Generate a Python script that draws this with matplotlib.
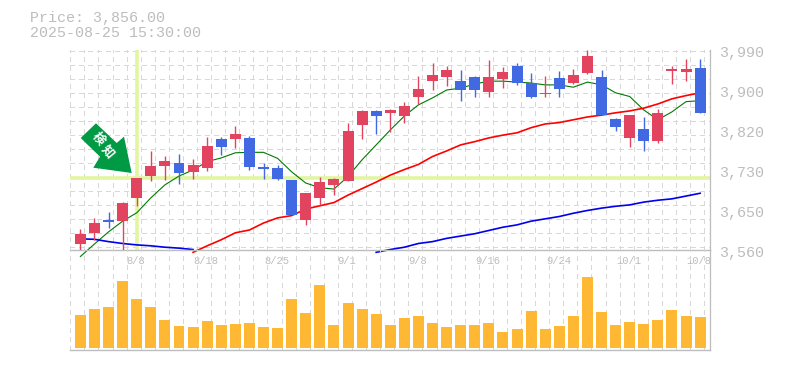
import numpy as np
import matplotlib
matplotlib.use("Agg")
import matplotlib.pyplot as plt
from matplotlib.patches import Polygon
from matplotlib.transforms import IdentityTransform

# daily candles, Aug - Oct 2025
opens = [3573, 3597, 3625, 3622, 3672, 3719, 3741, 3747, 3728, 3736, 3799, 3799, 3801, 3738, 3736,
         3710, 3625, 3672, 3700, 3708, 3829, 3859, 3855, 3848, 3889, 3923, 3932, 3923, 3932, 3900,
         3928, 3956, 3919, 3895, 3930, 3919, 3941, 3932, 3842, 3801, 3820, 3794, 3945, 3943, 3951]
closes = [3594, 3618, 3621, 3661, 3715, 3741, 3751, 3726, 3743, 3784, 3781, 3809, 3738, 3734, 3713,
          3635, 3683, 3706, 3713, 3816, 3859, 3848, 3861, 3870, 3906, 3936, 3947, 3904, 3904, 3932,
          3943, 3919, 3889, 3898, 3906, 3936, 3977, 3850, 3824, 3850, 3794, 3855, 3949, 3949, 3855]
highs = [3605, 3629, 3642, 3663, 3715, 3773, 3762, 3766, 3756, 3803, 3803, 3827, 3805, 3747, 3743,
         3710, 3683, 3717, 3715, 3833, 3861, 3861, 3863, 3878, 3934, 3962, 3956, 3947, 3934, 3969,
         3953, 3962, 3941, 3934, 3945, 3949, 3990, 3947, 3844, 3850, 3846, 3863, 3956, 3971, 3971]
lows = [3558, 3582, 3607, 3560, 3655, 3708, 3710, 3702, 3713, 3730, 3764, 3779, 3732, 3713, 3710,
        3635, 3614, 3657, 3678, 3708, 3799, 3809, 3814, 3833, 3874, 3904, 3913, 3880, 3889, 3889,
        3908, 3915, 3887, 3889, 3889, 3917, 3938, 3850, 3816, 3781, 3773, 3790, 3917, 3923, 3855]
volumes = [33, 39, 41, 67, 49, 41, 28, 22, 21, 27, 23, 24, 25, 21, 20, 49, 35, 63, 23, 45, 39, 34, 23,
           30, 32, 25, 21, 23, 23, 25, 16, 19, 37, 19, 22, 32, 71, 36, 23, 26, 24, 28, 38, 32, 31]

# moving averages
ma_short = [3546, 3573, 3599, 3622, 3640, 3672, 3700, 3719, 3732, 3750, 3758, 3769, 3770, 3770, 3757,
            3728, 3704, 3694, 3691, 3718, 3754, 3786, 3818, 3848, 3872, 3887, 3904, 3908, 3917, 3923,
            3923, 3921, 3919, 3915, 3915, 3910, 3921, 3915, 3898, 3890, 3861, 3840, 3857, 3879, 3881]
ma_mid = [np.nan] * 8 + [3555, 3569, 3582, 3597, 3603, 3618, 3629, 3634, 3648, 3655, 3662, 3678, 3692,
                         3706, 3721, 3733, 3744, 3761, 3773, 3786, 3793, 3801, 3807, 3812, 3823, 3831,
                         3834, 3840, 3846, 3850, 3855, 3859, 3865, 3874, 3885, 3892, 3898]
ma_long = [3584, 3583, 3578, 3574, 3571, 3569, 3566, 3564, 3561] + [np.nan] * 12 + [
    3555, 3561, 3566, 3574, 3578, 3585, 3590, 3595, 3602, 3609, 3614, 3622, 3627, 3632, 3639, 3645,
    3650, 3654, 3657, 3663, 3667, 3670, 3676, 3682]

date_idx = [4, 9, 14, 19, 24, 29, 34, 39, 44]
date_labels = ["8/8", "8/18", "8/25", "9/1", "9/8", "9/16", "9/24", "10/1", "10/8"]
price_ticks = [3990, 3904, 3818, 3732, 3646, 3560]
price_labels = ["3,990", "3,900", "3,820", "3,730", "3,650", "3,560"]
cross_idx = 4
cross_price = 3715

RED = "#e2445f"
BLUE = "#4169e1"
GRID = "#d8d8d8"
TXT = "#bdbdbd"
W, H = 785, 370

plt.rcParams["font.family"] = ["Liberation Mono", "DejaVu Sans Mono"]

fig = plt.figure(figsize=(W / 100, H / 100), dpi=100)
ax = fig.add_axes([70.3 / W, 1 - 250 / H, (710 - 70.3) / W, 200 / H])
ax_vol = fig.add_axes([70.3 / W, 1 - 350 / H, (710 - 70.3) / W, 100 / H], sharex=ax)

x = np.arange(len(opens))
o, c, h, l = map(np.array, (opens, closes, highs, lows))
colors = [RED if b >= a else BLUE for a, b in zip(o, c)]

grid_x = np.arange(-0.717, 44.7, 1.0)
for a in (ax, ax_vol):
    a.set_xlim(-0.717, 44.7)
    a.set_xticks(grid_x)
    a.tick_params(length=0, labelbottom=False, labelleft=False)
    a.grid(axis="x", color=GRID, lw=0.8, ls=(0, (4, 4)), antialiased=False)
    a.set_axisbelow(True)
    a.patch.set_alpha(0)
    for s in ("top", "left"):
        a.spines[s].set_visible(False)
    a.spines["right"].set_color(TXT)
    a.spines["bottom"].set_color(TXT)
    a.spines["right"].set_linewidth(0.9)
    a.spines["bottom"].set_linewidth(1.0)

ax.set_ylim(3560, 3990)
ax.set_yticks(np.arange(3988.5, 3560, -30.1))
ax.grid(axis="y", color=GRID, lw=0.8, ls=(0, (4, 4)), antialiased=False)

# crosshair
ax.axhline(cross_price, color="#e2f5a0", lw=2.6, zorder=1.5)
ax.axvline(cross_idx, color="#e2f5a0", lw=2.6, ymin=0.01, zorder=1.5)

# moving averages sit behind the candles
ax.plot(x, ma_short, color="#007a00", lw=0.8, clip_on=False, zorder=2)
ax.plot(x, ma_mid, color="#ff0000", lw=1.2, clip_on=False, zorder=2)
ax.plot(x, ma_long, color="#0000ee", lw=1.2, clip_on=False, zorder=2)

ax.vlines(x, l, h, colors=colors, lw=1.0, zorder=3)
ax.bar(x, np.maximum(np.abs(c - o), 1), bottom=np.minimum(o, c), width=0.78, color=colors, zorder=4)

ax_vol.set_ylim(-2, 98)
ax_vol.set_yticks([])
ax_vol.bar(x, volumes, width=0.78, color="#ffb833", zorder=3)

for val, lab in zip(price_ticks, price_labels):
    ax.annotate(lab, xy=(1, val), xycoords=ax.get_yaxis_transform(), xytext=(9, -3),
                textcoords="offset pixels", fontsize=10.8, color=TXT, va="center", ha="left",
                annotation_clip=False)
for i, lab in zip(date_idx, date_labels):
    ax.annotate(lab, xy=(i, 0), xycoords=ax.get_xaxis_transform(), xytext=(-1, -11),
                textcoords="offset pixels", fontsize=7.6, color=TXT, va="center", ha="center",
                annotation_clip=False)

fig.text(30 / W, 1 - 18 / H, "Price: 3,856.00", fontsize=10.8, color=TXT, va="center")
fig.text(30 / W, 1 - 33 / H, "2025-08-25 15:30:00", fontsize=10.8, color=TXT, va="center")

# signal arrow, placed in figure pixels
arrow_px = [(96, 123.3), (116.7, 143), (124, 136.7), (131.7, 173), (93.3, 167.7), (100, 156.7), (80.7, 138)]
fig.add_artist(Polygon([(px, H - py) for px, py in arrow_px], closed=True, facecolor="#009944",
                       edgecolor="none", transform=IdentityTransform(), zorder=6))
for ch, px, py in (("検", 98.3, 139.3), ("知", 107.7, 152)):
    fig.text(px / W, 1 - py / H, ch, family=["Noto Sans CJK JP", "DejaVu Sans"], fontsize=9, weight="bold",
             color="white", rotation=-50, rotation_mode="anchor", ha="center", va="center", zorder=7)

fig.savefig("out.png", dpi=100)
